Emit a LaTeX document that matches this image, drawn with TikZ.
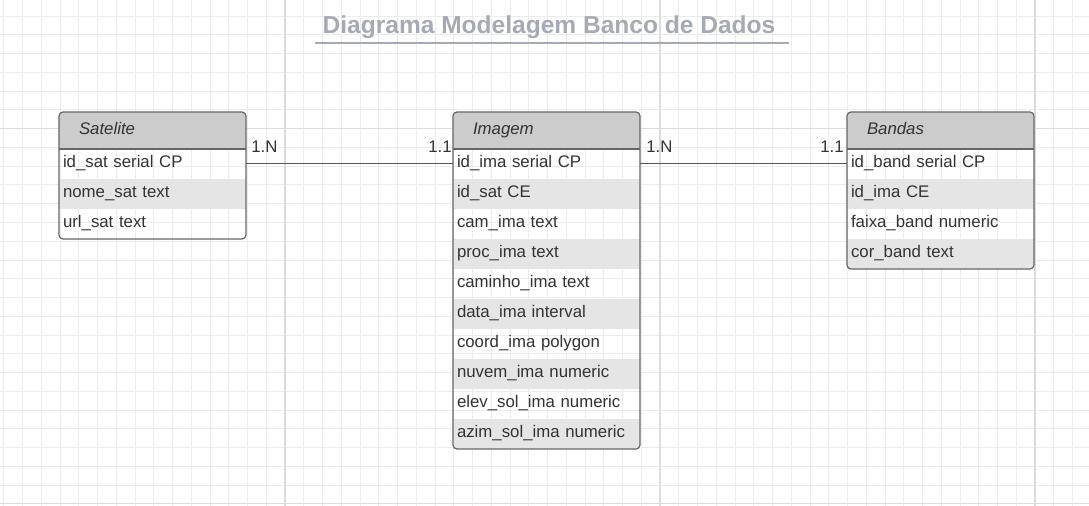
\documentclass[tikz,border=0pt]{standalone}
\usepackage{fontspec}
\setmainfont{Liberation Sans}
\definecolor{gridminorc}{HTML}{ECECEC}
\definecolor{gridmajorc}{HTML}{DCDCDC}
\definecolor{hdrfill}{HTML}{CCCCCC}
\definecolor{altfill}{HTML}{E5E5E5}
\definecolor{bordercol}{HTML}{666666}
\definecolor{txtcol}{HTML}{333333}
\definecolor{titlecol}{HTML}{A5AAB4}
\definecolor{linkcol}{HTML}{555555}
\begin{document}
\begin{tikzpicture}[x=0.75pt,y=-0.75pt,
  gminor/.style={draw=gridminorc, line width=0.75pt},
  gmajor/.style={draw=gridmajorc, line width=1.1pt},
  rowfont/.style={font=\fontsize{12.6}{14}\selectfont},
  tblhead/.style={anchor=north west, minimum height=27.75pt, text width=110.25pt,
    inner xsep=15pt, inner ysep=0pt, outer sep=0pt, align=left, fill=hdrfill,
    font=\fontsize{12.6}{14}\selectfont\itshape, text=txtcol,
    text height=9.35pt, text depth=2.65pt},
  tblrow/.style={anchor=north west, minimum height=22.5pt, text width=134.25pt,
    inner xsep=3pt, inner ysep=0pt, outer sep=0pt, align=left, rowfont, text=txtcol,
    text height=8.6pt, text depth=3.4pt},
  altrow/.style={tblrow, fill=altfill},
  tblborder/.style={draw=bordercol, line width=0.9pt, rounded corners=3pt},
  hdrline/.style={draw=bordercol, line width=0.9pt},
  link/.style={draw=linkcol, line width=0.75pt},
  card/.style={rowfont, text=txtcol, inner sep=0pt},
  titlestyle/.style={font=\fontsize{18.4}{22}\selectfont\bfseries, text=titlecol, inner sep=0pt},
  titleline/.style={draw=titlecol, line width=1.5pt}
]
\useasboundingbox (0,0) rectangle (1089,506);
\fill[white] (0,0) rectangle (1089,506);
% grid
\foreach \k in {0,...,57} \draw[gminor] ({3.75+18.75*\k},0) -- ({3.75+18.75*\k},506);
\foreach \k in {0,...,26} \draw[gminor] (0,{16.25+18.75*\k}) -- (1089,{16.25+18.75*\k});
\foreach \xx in {285,660,1035} \draw[gmajor] (\xx,0) -- (\xx,506);
\foreach \yy in {128.75,503.75} \draw[gmajor] (0,\yy) -- (1089,\yy);

% title
\node[titlestyle, anchor=base] (title) at (549,34) {Diagrama Modelagem Banco de Dados};
\coordinate (ulL) at (315,43);
\coordinate (ulR) at (789,43);
\draw[titleline] (ulL) -- (ulR);

% Satelite
\begin{scope}
\clip[rounded corners=3pt] (59,112) rectangle (246,239);
\node[tblhead] (satH) at (59,112) {Satelite};
\node[tblrow] (sat1) at (satH.south west) {id\_sat serial CP};
\node[altrow] (sat2) at (sat1.south west) {nome\_sat text};
\node[tblrow] (sat3) at (sat2.south west) {url\_sat text};
\end{scope}
\draw[tblborder] (satH.north west) rectangle (sat3.south east);
\draw[hdrline] (satH.south west) -- (satH.south east);

% Imagem
\begin{scope}
\clip[rounded corners=3pt] (453,112) rectangle (640,449);
\node[tblhead] (imaH) at (453,112) {Imagem};
\node[tblrow] (ima1) at (imaH.south west) {id\_ima serial CP};
\node[altrow] (ima2) at (ima1.south west) {id\_sat CE};
\node[tblrow] (ima3) at (ima2.south west) {cam\_ima text};
\node[altrow] (ima4) at (ima3.south west) {proc\_ima text};
\node[tblrow] (ima5) at (ima4.south west) {caminho\_ima text};
\node[altrow] (ima6) at (ima5.south west) {data\_ima interval};
\node[tblrow] (ima7) at (ima6.south west) {coord\_ima polygon};
\node[altrow] (ima8) at (ima7.south west) {nuvem\_ima numeric};
\node[tblrow] (ima9) at (ima8.south west) {elev\_sol\_ima numeric};
\node[altrow] (ima10) at (ima9.south west) {azim\_sol\_ima numeric};
\end{scope}
\draw[tblborder] (imaH.north west) rectangle (ima10.south east);
\draw[hdrline] (imaH.south west) -- (imaH.south east);

% Bandas
\begin{scope}
\clip[rounded corners=3pt] (847,112) rectangle (1034,269);
\node[tblhead] (bandH) at (847,112) {Bandas};
\node[tblrow] (band1) at (bandH.south west) {id\_band serial CP};
\node[altrow] (band2) at (band1.south west) {id\_ima CE};
\node[tblrow] (band3) at (band2.south west) {faixa\_band numeric};
\node[altrow] (band4) at (band3.south west) {cor\_band text};
\end{scope}
\draw[tblborder] (bandH.north west) rectangle (band4.south east);
\draw[hdrline] (bandH.south west) -- (bandH.south east);

% connectors
\draw[link] (sat1.east) -- (ima1.west);
\draw[link] (ima1.east) -- (band1.west);
\node[card, anchor=base west] (c1) at ([shift={(5,-11)}]sat1.east) {1.N};
\node[card, anchor=base east] (c2) at ([shift={(-1,-11)}]ima1.west) {1.1};
\node[card, anchor=base west] (c3) at ([shift={(6,-11)}]ima1.east) {1.N};
\node[card, anchor=base east] (c4) at ([shift={(-3,-11)}]band1.west) {1.1};
\end{tikzpicture}
\end{document}
